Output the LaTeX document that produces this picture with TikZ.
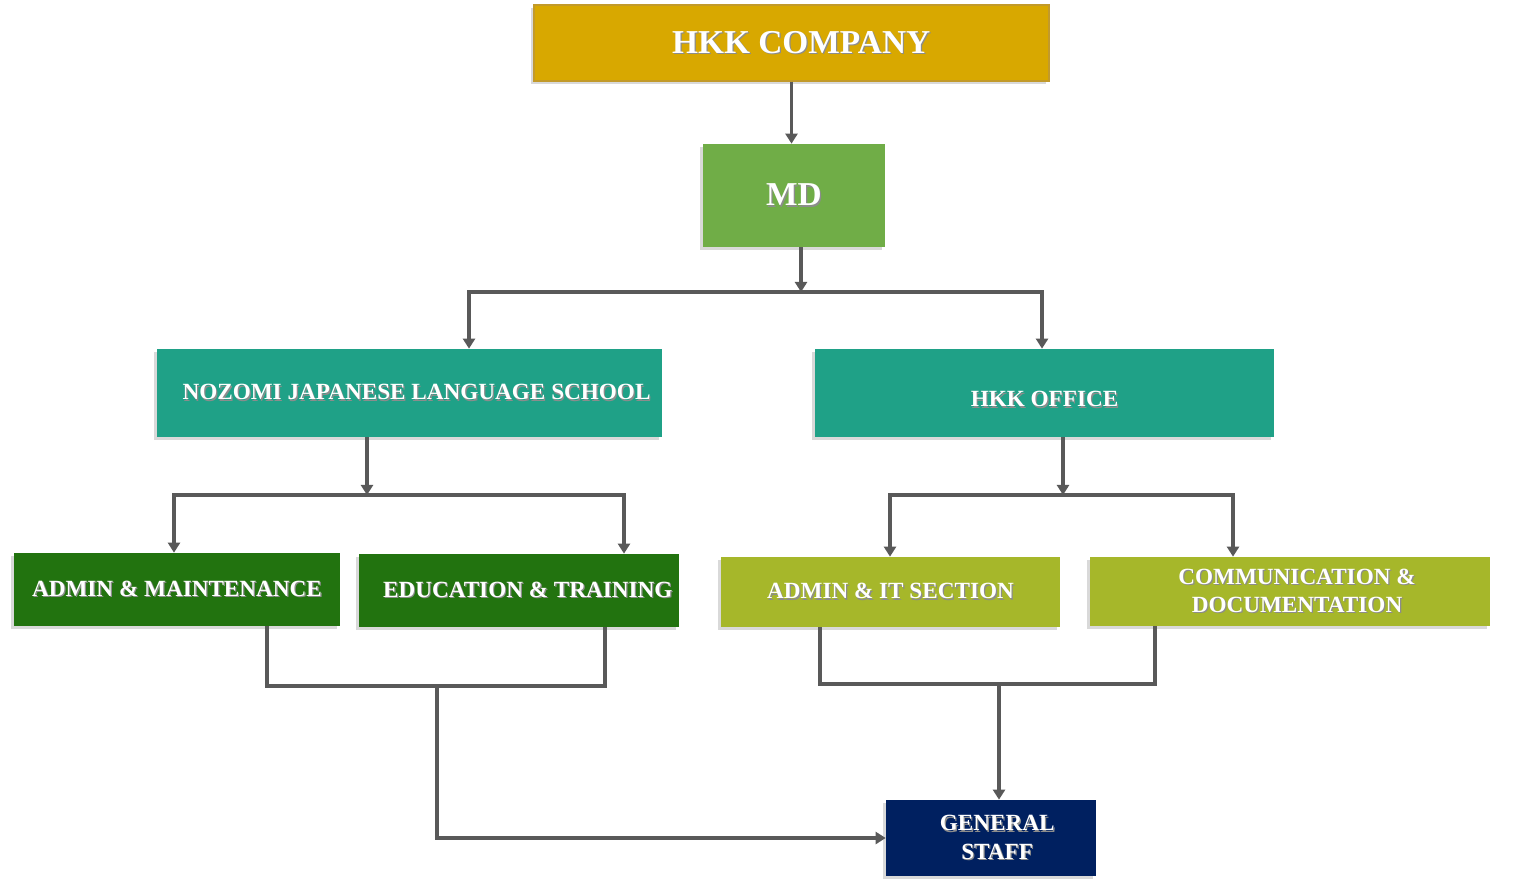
\documentclass[tikz,border=0pt]{standalone}
\usepackage{fontspec}
\setmainfont{Liberation Serif}
\usetikzlibrary{arrows.meta,shadows}

\definecolor{hkkgold}{HTML}{D8A800}
\definecolor{hkkgoldline}{HTML}{C29A2A}
\definecolor{mdgreen}{HTML}{70AD47}
\definecolor{tealgreen}{HTML}{1FA187}
\definecolor{darkgreen}{HTML}{22730F}
\definecolor{olivegreen}{HTML}{A6B72A}
\definecolor{navyblue}{HTML}{002060}
\definecolor{linegray}{HTML}{595959}

% white text with a soft grey shadow
\newcommand{\shtext}[1]{\leavevmode\rlap{\kern0.7pt\raisebox{-0.7pt}{\color{black!45}#1}}#1}

\begin{document}
\begin{tikzpicture}[x=0.02cm, y=-0.02cm,
        org_box/.style={rectangle, text=white, align=center, inner sep=0pt,
            font=\bfseries\fontsize{13.2}{16}\selectfont,
            drop shadow={shadow xshift=-1.5pt, shadow yshift=-1.5pt, opacity=0.3}},
        big_box/.style={org_box, font=\bfseries\fontsize{19}{22}\selectfont},
        bus/.style={draw=linegray, line width=1.9pt},
        link/.style={bus, -{Triangle[length=5.7pt, width=6.8pt]}}
    ]
    \useasboundingbox (0,0) rectangle (1533,889);

    % --- LIVELLO 1: azienda e MD ---
    \node[big_box, fill=hkkgold, draw=hkkgoldline, line width=0.8pt,
          minimum width=10.3cm, minimum height=1.52cm] (company) at (791.5,43)
        {\hspace*{11pt}\shtext{HKK COMPANY}};
    \node[big_box, fill=mdgreen, minimum width=3.64cm, minimum height=2.06cm] (md) at (794,195.5) {\shtext{MD}};

    % --- LIVELLO 2: scuola e ufficio ---
    \node[org_box, fill=tealgreen, minimum width=10.1cm, minimum height=1.76cm] (school) at (409.5,393)
        {\hspace*{8pt}\shtext{NOZOMI JAPANESE LANGUAGE SCHOOL}};
    \node[org_box, fill=tealgreen, minimum width=9.18cm, minimum height=1.76cm] (office) at (1044.5,393)
        {\rule{0pt}{16.7pt}\shtext{HKK OFFICE}};

    % --- LIVELLO 3: sezioni ---
    \node[org_box, fill=darkgreen, minimum width=6.52cm, minimum height=1.46cm] (adminm) at (177,589.5)
        {\shtext{ADMIN \& MAINTENANCE}};
    \node[org_box, fill=darkgreen, minimum width=6.4cm, minimum height=1.46cm] (edu) at (519,590.5)
        {\hspace*{10pt}\shtext{EDUCATION \& TRAINING}};
    \node[org_box, fill=olivegreen, minimum width=6.78cm, minimum height=1.4cm] (adminit) at (890.5,592)
        {\shtext{ADMIN \& IT SECTION}};
    \node[org_box, fill=olivegreen, minimum width=8cm, minimum height=1.38cm] (comm) at (1290,591.5)
        {\hspace*{8pt}\shtext{COMMUNICATION \&}\\\hspace*{8pt}\shtext{DOCUMENTATION}};

    % --- LIVELLO 4: personale ---
    \node[org_box, fill=navyblue, minimum width=4.2cm, minimum height=1.52cm] (staff) at (991,838)
        {\hspace*{7pt}\shtext{GENERAL}\\\hspace*{7pt}\shtext{STAFF}};

    % --- Collegamenti dall'alto ---
    \draw[link] (company.south) -- (company.south |- md.north);
    \draw[link] (801,0 |- md.south) -- (801,292) coordinate (b1);
    \draw[link] (b1) -| (469,0 |- school.north);
    \draw[link] (b1) -| (1042,0 |- office.north);

    % scuola -> sezioni
    \draw[link] (367,0 |- school.south) -- (367,495) coordinate (b2);
    \draw[link] (b2) -| (174,0 |- adminm.north);
    \draw[link] (b2) -| (624,0 |- edu.north);

    % ufficio -> sezioni
    \draw[link] (1063,0 |- office.south) -- (1063,495) coordinate (b3);
    \draw[link] (b3) -| (890,0 |- adminit.north);
    \draw[link] (b3) -| (1233,0 |- comm.north);

    % --- Sezioni -> personale ---
    \draw[bus] (267,0 |- adminm.south) |- (437,686) coordinate (m1);
    \draw[bus] (605,0 |- edu.south) |- (m1);
    \draw[link] (m1) |- (staff.west);

    \draw[bus] (820,0 |- adminit.south) |- (999,684) coordinate (m2);
    \draw[bus] (1155,0 |- comm.south) |- (m2);
    \draw[link] (m2) -- (m2 |- staff.north);

\end{tikzpicture}
\end{document}
